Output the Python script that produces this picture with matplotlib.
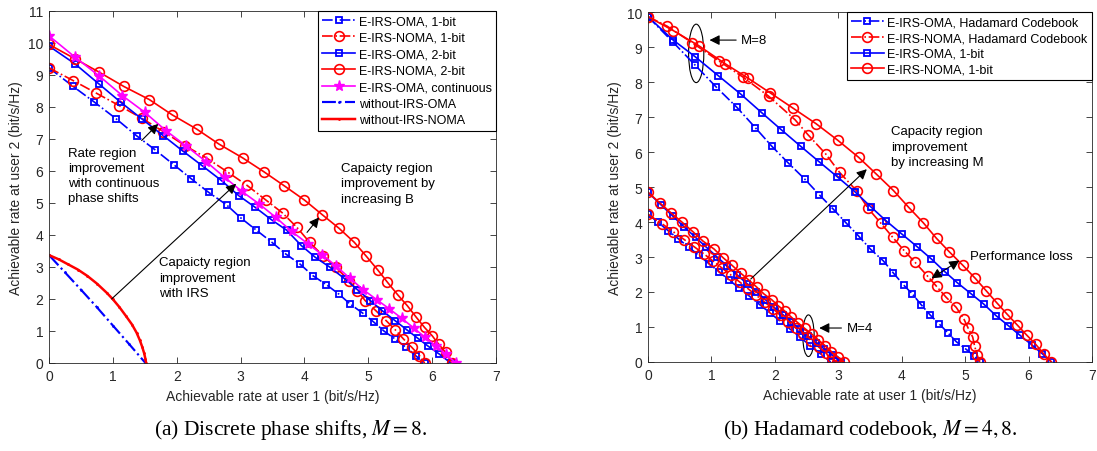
import matplotlib
matplotlib.use("Agg")
import matplotlib.pyplot as plt
from matplotlib.patches import Ellipse

plt.rcParams['font.family'] = ['Liberation Sans', 'DejaVu Sans']
plt.rcParams['mathtext.fontset'] = 'stix'

# ---------------- (a) discrete phase shifts, M = 8 ----------------
oma1_x = [0, 0.37, 0.71, 1.05, 1.37, 1.66, 1.95, 2.23, 2.5, 2.78, 3.01, 3.24, 3.49, 3.71, 3.93, 4.13, 4.34, 4.54, 4.71, 4.91, 5.09, 5.25, 5.42, 5.59, 5.74, 5.88]
oma1_y = [9.22, 8.65, 8.15, 7.63, 7.1, 6.66, 6.2, 5.75, 5.33, 4.94, 4.52, 4.16, 3.77, 3.4, 3.09, 2.73, 2.45, 2.15, 1.85, 1.56, 1.27, 0.99, 0.75, 0.49, 0.23, 0]

noma1_x = [0, 0.38, 0.74, 1.1, 1.45, 1.79, 2.13, 2.47, 2.8, 3.1, 3.39, 3.66, 3.88, 4.08, 4.29, 4.49, 4.7, 4.83, 4.95, 5.12, 5.28, 5.42, 5.55, 5.68, 5.8, 5.88]
noma1_y = [9.22, 8.82, 8.43, 8.04, 7.65, 7.23, 6.79, 6.4, 5.96, 5.55, 5.1, 4.68, 4.24, 3.77, 3.35, 2.99, 2.57, 2.26, 1.95, 1.63, 1.32, 1.04, 0.75, 0.49, 0.23, 0]

oma2_x = [0, 0.41, 0.78, 1.12, 1.45, 1.79, 2.09, 2.4, 2.7, 2.97, 3.23, 3.48, 3.72, 3.95, 4.17, 4.4, 4.63, 4.83, 5.03, 5.22, 5.42, 5.6, 5.77, 5.94, 6.11, 6.29]
oma2_y = [9.9, 9.34, 8.72, 8.15, 7.63, 7.1, 6.63, 6.16, 5.7, 5.23, 4.86, 4.48, 4.15, 3.67, 3.3, 2.99, 2.63, 2.29, 1.95, 1.63, 1.32, 1.04, 0.78, 0.52, 0.28, 0]

noma2_x = [0, 0.41, 0.79, 1.17, 1.57, 1.93, 2.31, 2.66, 3.03, 3.36, 3.68, 4.0, 4.28, 4.54, 4.78, 4.97, 5.15, 5.3, 5.46, 5.61, 5.75, 5.88, 6.0, 6.1, 6.21, 6.31]
noma2_y = [9.95, 9.5, 9.08, 8.64, 8.23, 7.75, 7.31, 6.84, 6.41, 5.98, 5.54, 5.09, 4.63, 4.21, 3.77, 3.33, 2.9, 2.52, 2.13, 1.79, 1.43, 1.11, 0.85, 0.59, 0.33, 0]

omac_x = [0, 0.41, 0.79, 1.15, 1.5, 1.83, 2.14, 2.46, 2.75, 3.02, 3.29, 3.55, 3.8, 4.05, 4.28, 4.5, 4.71, 4.92, 5.13, 5.33, 5.52, 5.72, 5.89, 6.06, 6.21, 6.37]
omac_y = [10.22, 9.55, 8.96, 8.35, 7.83, 7.26, 6.79, 6.29, 5.8, 5.36, 4.97, 4.55, 4.11, 3.73, 3.38, 3.02, 2.65, 2.29, 1.98, 1.69, 1.4, 1.08, 0.8, 0.54, 0.28, 0]

noirs_oma_x = [0, 0.25, 0.5, 0.75, 1.0, 1.25, 1.51]
noirs_oma_y = [3.37, 2.83, 2.29, 1.74, 1.17, 0.6, 0]
noirs_noma_x = [0, 0.15, 0.3, 0.45, 0.6, 0.75, 0.9, 1.0, 1.1, 1.2, 1.3, 1.37, 1.42, 1.46, 1.49, 1.51, 1.52]
noirs_noma_y = [3.37, 3.24, 3.08, 2.92, 2.72, 2.48, 2.2, 1.99, 1.75, 1.48, 1.2, 0.95, 0.72, 0.5, 0.3, 0.12, 0]

# ---------------- (b) Hadamard codebook, M = 4, 8 ----------------
had_oma8_x = [0, 0.39, 0.74, 1.08, 1.4, 1.69, 1.95, 2.21, 2.47, 2.7, 2.92, 3.12, 3.32, 3.51, 3.71, 3.87, 4.03, 4.17, 4.31, 4.45, 4.59, 4.73, 4.86, 5.01, 5.14, 5.23]
had_oma8_y = [9.87, 9.15, 8.49, 7.85, 7.28, 6.7, 6.17, 5.69, 5.23, 4.78, 4.37, 3.98, 3.6, 3.22, 2.89, 2.54, 2.2, 1.94, 1.63, 1.34, 1.09, 0.83, 0.58, 0.37, 0.18, 0]

had_noma8_x = [0, 0.3, 0.7, 1.12, 1.5, 1.9, 2.32, 2.52, 2.8, 3.02, 3.29, 3.47, 3.67, 3.86, 4.04, 4.21, 4.41, 4.55, 4.7, 4.86, 4.98, 5.05, 5.12, 5.15, 5.19, 5.23]
had_noma8_y = [9.87, 9.6, 9.12, 8.6, 8.14, 7.6, 6.92, 6.5, 5.95, 5.42, 4.89, 4.39, 3.97, 3.56, 3.18, 2.85, 2.45, 2.16, 1.85, 1.56, 1.23, 0.96, 0.71, 0.45, 0.2, 0]

bit_oma8_x = [0, 0.39, 0.74, 1.11, 1.46, 1.79, 2.1, 2.41, 2.7, 2.98, 3.26, 3.51, 3.75, 4.0, 4.24, 4.47, 4.68, 4.88, 5.1, 5.29, 5.49, 5.68, 5.86, 6.05, 6.22, 6.36]
bit_oma8_y = [9.87, 9.21, 8.73, 8.18, 7.66, 7.13, 6.64, 6.16, 5.72, 5.3, 4.87, 4.44, 4.04, 3.66, 3.3, 2.94, 2.58, 2.26, 1.94, 1.66, 1.32, 1.04, 0.77, 0.49, 0.23, 0]

bit_noma8_x = [0, 0.4, 0.8, 1.22, 1.57, 1.92, 2.29, 2.65, 2.99, 3.32, 3.6, 3.87, 4.11, 4.34, 4.55, 4.75, 4.96, 5.16, 5.33, 5.5, 5.66, 5.82, 5.97, 6.11, 6.24, 6.36]
bit_noma8_y = [9.87, 9.47, 9.04, 8.52, 8.12, 7.7, 7.25, 6.81, 6.34, 5.85, 5.37, 4.9, 4.42, 3.98, 3.53, 3.15, 2.77, 2.39, 2.04, 1.69, 1.37, 1.06, 0.77, 0.51, 0.23, 0]

had_oma4_x = [0, 0.16, 0.32, 0.48, 0.64, 0.8, 0.96, 1.12, 1.28, 1.44, 1.6, 1.76, 1.92, 2.08, 2.24, 2.4, 2.56, 2.72, 2.88]
had_oma4_y = [4.22, 3.99, 3.75, 3.52, 3.28, 3.05, 2.81, 2.58, 2.34, 2.11, 1.88, 1.64, 1.41, 1.17, 0.94, 0.7, 0.47, 0.23, 0]

had_noma4_x = [0, 0.22, 0.4, 0.57, 0.73, 0.88, 1.03, 1.17, 1.31, 1.45, 1.58, 1.71, 1.84, 1.97, 2.09, 2.21, 2.33, 2.45, 2.57, 2.69, 2.8, 2.9, 2.98]
had_noma4_y = [4.22, 3.95, 3.72, 3.5, 3.29, 3.09, 2.88, 2.68, 2.48, 2.28, 2.09, 1.9, 1.71, 1.52, 1.33, 1.15, 0.97, 0.79, 0.61, 0.43, 0.26, 0.1, 0]

bit_oma4_x = [0, 0.2, 0.39, 0.57, 0.75, 0.92, 1.09, 1.25, 1.41, 1.56, 1.71, 1.85, 1.99, 2.13, 2.26, 2.39, 2.52, 2.65, 2.78, 2.91, 3.04]
bit_oma4_y = [4.85, 4.5, 4.17, 3.86, 3.56, 3.28, 3.0, 2.74, 2.48, 2.24, 2.0, 1.78, 1.56, 1.35, 1.14, 0.94, 0.74, 0.55, 0.37, 0.19, 0]

bit_noma4_x = [0, 0.19, 0.37, 0.54, 0.71, 0.87, 1.04, 1.19, 1.32, 1.46, 1.59, 1.72, 1.83, 1.95, 2.05, 2.16, 2.26, 2.37, 2.47, 2.58, 2.68, 2.79, 2.89, 3.0, 3.09]
bit_noma4_y = [4.85, 4.54, 4.25, 3.99, 3.72, 3.45, 3.23, 2.97, 2.77, 2.54, 2.34, 2.13, 1.94, 1.78, 1.61, 1.45, 1.28, 1.11, 0.96, 0.8, 0.64, 0.47, 0.29, 0.13, 0]

BLUE = '#0000ff'
RED = '#ff0000'
MAG = '#ff00ff'
DARK = '#262626'

lw = 1.2
sq = dict(marker='s', ms=5, mfc='none', mew=1.3)
ci = dict(marker='o', ms=7, mfc='none', mew=1.2)
arrow = dict(arrowstyle='-|>', color='k', lw=0.8, mutation_scale=15, shrinkA=0, shrinkB=0)


def style_axes(ax, ymax):
    ax.set_xlim(0, 7)
    ax.set_ylim(0, ymax)
    ax.set_xticks(range(0, 8))
    ax.set_yticks(range(0, ymax + 1))
    ax.tick_params(direction='in', top=True, right=True, length=4, width=0.6,
                   labelsize=10, colors=DARK, pad=4)
    for s in ax.spines.values():
        s.set_color(DARK)
        s.set_linewidth(0.6)
    ax.set_xlabel('Achievable rate at user 1 (bit/s/Hz)', fontsize=10, color=DARK, labelpad=5)
    ax.set_ylabel('Achievable rate at user 2 (bit/s/Hz)', fontsize=10, color=DARK, labelpad=4)


fig = plt.figure(figsize=(10.97, 4.52), dpi=100)
ax1 = fig.add_axes([0.0447, 0.1947, 0.4075, 0.779])
ax2 = fig.add_axes([0.5907, 0.197, 0.4047, 0.774])

# left panel
ax1.plot(oma1_x, oma1_y, '-.', color=BLUE, lw=lw, label='E-IRS-OMA, 1-bit', **sq)
ax1.plot(noma1_x, noma1_y, '-.', color=RED, lw=lw, label='E-IRS-NOMA, 1-bit', **ci)
ax1.plot(oma2_x, oma2_y, '-', color=BLUE, lw=lw, label='E-IRS-OMA, 2-bit', **sq)
ax1.plot(noma2_x, noma2_y, '-', color=RED, lw=lw, label='E-IRS-NOMA, 2-bit', **ci)
ax1.plot(omac_x, omac_y, '-', color=MAG, lw=lw, marker='*', ms=8, mew=1.0,
         label='E-IRS-OMA, continuous')
ax1.plot(noirs_oma_x, noirs_oma_y, '-.', color=BLUE, lw=lw * 1.3, marker='.', ms=2,
         label='without-IRS-OMA')
ax1.plot(noirs_noma_x, noirs_noma_y, '-', color=RED, lw=lw * 1.5, marker='.', ms=2,
         label='without-IRS-NOMA')
style_axes(ax1, 11)

ax1.text(0.3, 6.75, 'Rate region\nimprovement\nwith continuous\nphase shifts',
         fontsize=9.5, va='top', ha='left', linespacing=1.35)
ax1.annotate('', xy=(1.71, 7.47), xytext=(1.45, 6.95), arrowprops=arrow)
ax1.text(1.72, 3.33, 'Capaicty region\nimprovement\nwith IRS',
         fontsize=9.5, va='top', ha='left', linespacing=1.35)
ax1.annotate('', xy=(2.93, 5.6), xytext=(0.98, 2.0), arrowprops=arrow)
ax1.text(4.57, 6.27, 'Capaicty region\nimprovement by\nincreasing B',
         fontsize=9.5, va='top', ha='left', linespacing=1.35)
ax1.annotate('', xy=(4.23, 4.55), xytext=(4.04, 4.08), arrowprops=arrow)

leg1 = ax1.legend(loc='upper right', fontsize=9, handlelength=2.6, handletextpad=0.3,
                  labelspacing=0.36, borderpad=0.35, borderaxespad=0.0, fancybox=False,
                  edgecolor='k', framealpha=1)
leg1.get_frame().set_linewidth(0.8)

# right panel
ax2.plot(had_oma8_x, had_oma8_y, '-.', color=BLUE, lw=lw, label='E-IRS-OMA, Hadamard Codebook', **sq)
ax2.plot(had_noma8_x, had_noma8_y, '-.', color=RED, lw=lw, label='E-IRS-NOMA, Hadamard Codebook', **ci)
ax2.plot(bit_oma8_x, bit_oma8_y, '-', color=BLUE, lw=lw, label='E-IRS-OMA, 1-bit', **sq)
ax2.plot(bit_noma8_x, bit_noma8_y, '-', color=RED, lw=lw, label='E-IRS-NOMA, 1-bit', **ci)
ax2.plot(had_oma4_x, had_oma4_y, '-.', color=BLUE, lw=lw, **sq)
ax2.plot(had_noma4_x, had_noma4_y, '-.', color=RED, lw=lw, **ci)
ax2.plot(bit_oma4_x, bit_oma4_y, '-', color=BLUE, lw=lw, **sq)
ax2.plot(bit_noma4_x, bit_noma4_y, '-', color=RED, lw=lw, **ci)
style_axes(ax2, 10)

ax2.add_patch(Ellipse((0.76, 8.82), 0.24, 1.67, fill=False, ec='k', lw=0.8))
ax2.annotate('', xy=(0.97, 9.2), xytext=(1.39, 9.2), arrowprops=arrow)
ax2.text(1.47, 9.2, 'M=8', fontsize=9.5, va='center', ha='left')

ax2.add_patch(Ellipse((2.53, 0.75), 0.18, 1.19, fill=False, ec='k', lw=0.8))
ax2.annotate('', xy=(2.7, 0.97), xytext=(3.05, 0.97), arrowprops=arrow)
ax2.text(3.14, 0.97, 'M=4', fontsize=9.5, va='center', ha='left')

ax2.text(3.83, 6.76, 'Capacity region\nimprovement\nby increasing M',
         fontsize=9.5, va='top', ha='left', linespacing=1.35)
ax2.annotate('', xy=(3.45, 5.51), xytext=(1.62, 2.37), arrowprops=arrow)

ax2.text(5.08, 3.04, 'Performance loss', fontsize=9.5, va='center', ha='left')
ax2.annotate('', xy=(4.91, 2.9), xytext=(4.47, 2.39),
             arrowprops=dict(arrowstyle='<|-|>', color='k', lw=0.8, mutation_scale=15,
                             shrinkA=0, shrinkB=0))

leg2 = ax2.legend(loc='upper right', fontsize=9, handlelength=2.6, handletextpad=0.3,
                  labelspacing=0.3, borderpad=0.35, borderaxespad=0.0, fancybox=False,
                  edgecolor='k', framealpha=1)
leg2.get_frame().set_linewidth(0.8)

# captions under the panels
fig.text(291 / 1097, 1 - 430 / 452, '(a) Discrete phase shifts, $M=8$.',
         family='Liberation Serif', fontsize=15.5, ha='center', va='center')
fig.text(870 / 1097, 1 - 430 / 452, '(b) Hadamard codebook, $M=4,8$.',
         family='Liberation Serif', fontsize=15.5, ha='center', va='center')

fig.savefig('out.png', dpi=100)
